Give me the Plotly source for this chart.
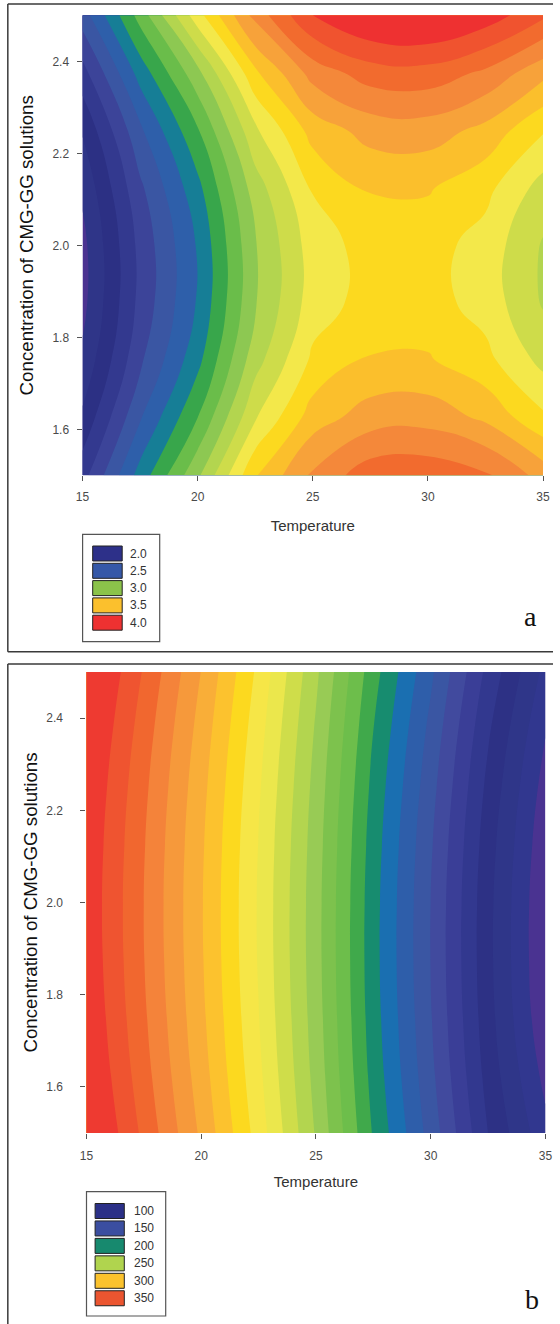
import plotly.graph_objects as go

# ---------------- data ----------------
temperature = [15, 17.5, 20, 22.5, 25, 27.5, 30, 32.5, 35]
concentration = [1.5, 1.625, 1.75, 1.875, 2.0, 2.125, 2.25, 2.375, 2.5]

# panel a: rows = concentration (low -> high), columns = temperature
z_a = [
    [2.36, 2.74, 3.08, 3.49, 3.72, 3.86, 3.87, 3.82, 3.66],
    [2.22, 2.59, 2.90, 3.29, 3.55, 3.65, 3.66, 3.58, 3.42],
    [2.12, 2.48, 2.77, 3.16, 3.42, 3.51, 3.51, 3.43, 3.27],
    [2.07, 2.43, 2.71, 3.09, 3.35, 3.44, 3.44, 3.36, 3.19],
    [2.07, 2.43, 2.71, 3.09, 3.35, 3.44, 3.44, 3.36, 3.19],
    [2.12, 2.48, 2.77, 3.15, 3.41, 3.51, 3.51, 3.43, 3.26],
    [2.21, 2.58, 2.89, 3.28, 3.54, 3.64, 3.65, 3.57, 3.41],
    [2.36, 2.74, 3.07, 3.48, 3.74, 3.85, 3.86, 3.78, 3.63],
    [2.55, 2.94, 3.36, 3.74, 4.00, 4.12, 4.14, 4.06, 3.92],
]

# panel b
z_b = [
    [365.5, 337.6, 308.2, 275.5, 239.0, 199.0, 166.0, 130.0, 103.0],
    [361.9, 334.1, 304.9, 272.5, 236.5, 196.3, 162.8, 126.3, 97.0],
    [359.4, 331.7, 302.6, 270.4, 234.9, 194.6, 160.8, 123.9, 92.4],
    [357.9, 330.3, 301.3, 269.2, 234.0, 193.8, 159.8, 122.8, 90.9],
    [357.5, 330.0, 301.0, 269.0, 234.0, 194.0, 160.0, 123.0, 91.0],
    [358.2, 330.7, 301.7, 269.7, 234.8, 195.1, 161.3, 124.5, 92.7],
    [359.9, 332.4, 303.4, 271.4, 236.4, 197.1, 163.8, 127.4, 95.9],
    [362.7, 335.2, 306.1, 274.0, 238.8, 200.1, 167.3, 131.5, 100.7],
    [366.5, 339.0, 309.8, 277.5, 242.0, 204.0, 172.0, 137.0, 107.0],
]

x_ticks = [15, 20, 25, 30, 35]
y_ticks = [1.6, 1.8, 2.0, 2.2, 2.4]

legend_a_labels = ["2.0", "2.5", "3.0", "3.5", "4.0"]
legend_a_colors = ["#2D3089", "#3558A8", "#8BC34A", "#FBC02D", "#EE3131"]
legend_b_labels = ["100", "150", "200", "250", "300", "350"]
legend_b_colors = ["#2B3087", "#3B4EA0", "#17896E", "#B0D44E", "#FBC22D", "#EB5530"]

# band colours (low -> high)
palette_a = ["#4B3391", "#2F3588", "#2C3084", "#33398F", "#3C4499", "#3A56A3",
             "#2E5FAA", "#167E96", "#38A64B", "#6ABD4A", "#8DC852", "#B3D54F",
             "#CEDC4A", "#F3E84A", "#FCD91F", "#FBBF2C", "#F7A23A", "#F4883A",
             "#F26B2E", "#F0532F", "#EE3131"]
palette_b = ["#4A3391", "#31378F", "#2F3689", "#2D3185", "#32388F", "#3A3E97",
             "#414A9E", "#3A56A3", "#2E5EAA", "#1A6FB1", "#178C6F", "#40A94B",
             "#6DBE4B", "#7DC24D", "#98CB55", "#B3D54F", "#CFDD4A", "#EBE74C",
             "#F6E647", "#FCD91F", "#FCC22E", "#F9AE38", "#F6993B", "#F4833A",
             "#F1672F", "#EF5430", "#EE3A31"]

# ---------------- layout helpers ----------------
W, H = 560, 1324


def px(x):
    # horizontal position measured on the target picture -> paper fraction
    return ((x - 7.3) / 0.975) / W


def py(y):
    return 1 - y / H


def scale(pal):
    n = len(pal) - 1
    return [[i / n, c] for i, c in enumerate(pal)]


fig = go.Figure()
fig.add_trace(go.Contour(
    x=temperature, y=concentration, z=z_a, xaxis="x", yaxis="y",
    contours=dict(start=2.1, end=4.0, size=0.1, coloring="fill", showlines=False),
    colorscale=scale(palette_a), line=dict(width=0, smoothing=1.3),
    showscale=False, hoverinfo="skip"))
fig.add_trace(go.Contour(
    x=temperature, y=concentration, z=z_b, xaxis="x2", yaxis="y2",
    contours=dict(start=100, end=350, size=10, coloring="fill", showlines=False),
    colorscale=scale(palette_b), line=dict(width=0, smoothing=1.3),
    showscale=False, hoverinfo="skip"))

tickfont = dict(family="Liberation Sans, Arial", size=12, color="#4a4a4a")


def ytitle(standoff):
    return dict(text="Concentration of CMG-GG solutions",
                font=dict(family="Liberation Sans, Arial", size=18.7, color="#111"),
                standoff=standoff)


def xtitle(standoff):
    return dict(text="Temperature",
                font=dict(family="Liberation Sans, Arial", size=15, color="#333"),
                standoff=standoff)


def x_axis(domain, anchor, lab_off, title_off):
    return dict(domain=domain, anchor=anchor, range=[15, 35], tickvals=x_ticks,
                ticks="outside", ticklen=5, tickcolor="#555", tickfont=tickfont,
                ticklabelstandoff=lab_off, showgrid=False, zeroline=False,
                showline=False, title=xtitle(title_off))


def y_axis(domain, anchor, lab_off, title_off):
    return dict(domain=domain, anchor=anchor, range=[1.5, 2.5], tickvals=y_ticks,
                tickformat=".1f", ticks="outside", ticklen=5, tickcolor="#555",
                tickfont=tickfont, ticklabelstandoff=lab_off, showgrid=False,
                zeroline=False, showline=False, title=ytitle(title_off))


shapes = []
annotations = []


def hline(x0, x1, y):
    shapes.append(dict(type="line", xref="paper", yref="paper",
                       x0=max(px(x0), 0.0015), x1=min(px(x1), 1.0), y0=py(y), y1=py(y),
                       line=dict(color="#3a3a3a", width=1.5)))


def vline(x, y0, y1):
    shapes.append(dict(type="line", xref="paper", yref="paper",
                       x0=max(px(x), 0.0015), x1=max(px(x), 0.0015),
                       y0=py(y0), y1=py(y1),
                       line=dict(color="#3a3a3a", width=1.5)))


# panel frames (open to the right / bottom edge of the page)
hline(7.5, 570, 4)
vline(7.5, 4, 651.7)
hline(7.5, 570, 651.7)
hline(7.8, 570, 664)
vline(7.8, 664, 1324)


def add_legend(labels, colors, box, sw_x0, sw_x1, y_first, pitch, lab_x):
    shapes.append(dict(type="rect", xref="paper", yref="paper",
                       x0=px(box[0]), x1=px(box[1]), y0=py(box[3]), y1=py(box[2]),
                       line=dict(color="#555", width=1.2)))
    for i, (lab, col) in enumerate(zip(labels, colors)):
        yc = y_first + i * pitch
        shapes.append(dict(type="rect", xref="paper", yref="paper",
                           x0=px(sw_x0), x1=px(sw_x1),
                           y0=py(yc + 7.5), y1=py(yc - 7.5),
                           fillcolor=col, line=dict(color="#222", width=1)))
        annotations.append(dict(xref="paper", yref="paper", x=px(lab_x), y=py(yc),
                                text=lab, showarrow=False, xanchor="left",
                                yanchor="middle",
                                font=dict(family="Liberation Sans, Arial", size=12,
                                          color="#333")))


add_legend(legend_a_labels, legend_a_colors, (82.9, 160, 534.3, 641.7),
           93, 122.5, 553.5, 17.3, 128)
add_legend(legend_b_labels, legend_b_colors, (86.8, 166, 1191.7, 1316),
           95.4, 124.6, 1211, 17.45, 132)

annotations.append(dict(xref="paper", yref="paper", x=px(531), y=py(617),
                        text="a", showarrow=False, xanchor="center", yanchor="middle",
                        font=dict(family="Liberation Serif, Times New Roman", size=28,
                                  color="#111")))
annotations.append(dict(xref="paper", yref="paper", x=px(532), y=py(1299),
                        text="b", showarrow=False, xanchor="center", yanchor="middle",
                        font=dict(family="Liberation Serif, Times New Roman", size=28,
                                  color="#111")))

fig.update_layout(
    width=W, height=H, margin=dict(l=0, r=0, t=0, b=0),
    paper_bgcolor="white", plot_bgcolor="white", showlegend=False,
    xaxis=x_axis([px(82.8), px(543.3)], "y", 5, 17),
    yaxis=y_axis([py(475.3), py(15.3)], "x", 5, 13),
    xaxis2=x_axis([px(86.7), px(545.7)], "y2", 7, 14),
    yaxis2=y_axis([py(1133), py(672)], "x2", 15, 3.5),
    shapes=shapes, annotations=annotations,
)

fig.write_html(
    "out.html",
    config={"displayModeBar": False},
    post_script="document.documentElement.style.margin='0';"
                "document.documentElement.style.overflow='hidden';"
                "document.body.style.margin='0';document.body.style.padding='0';"
                "document.body.style.overflow='hidden';",
)
